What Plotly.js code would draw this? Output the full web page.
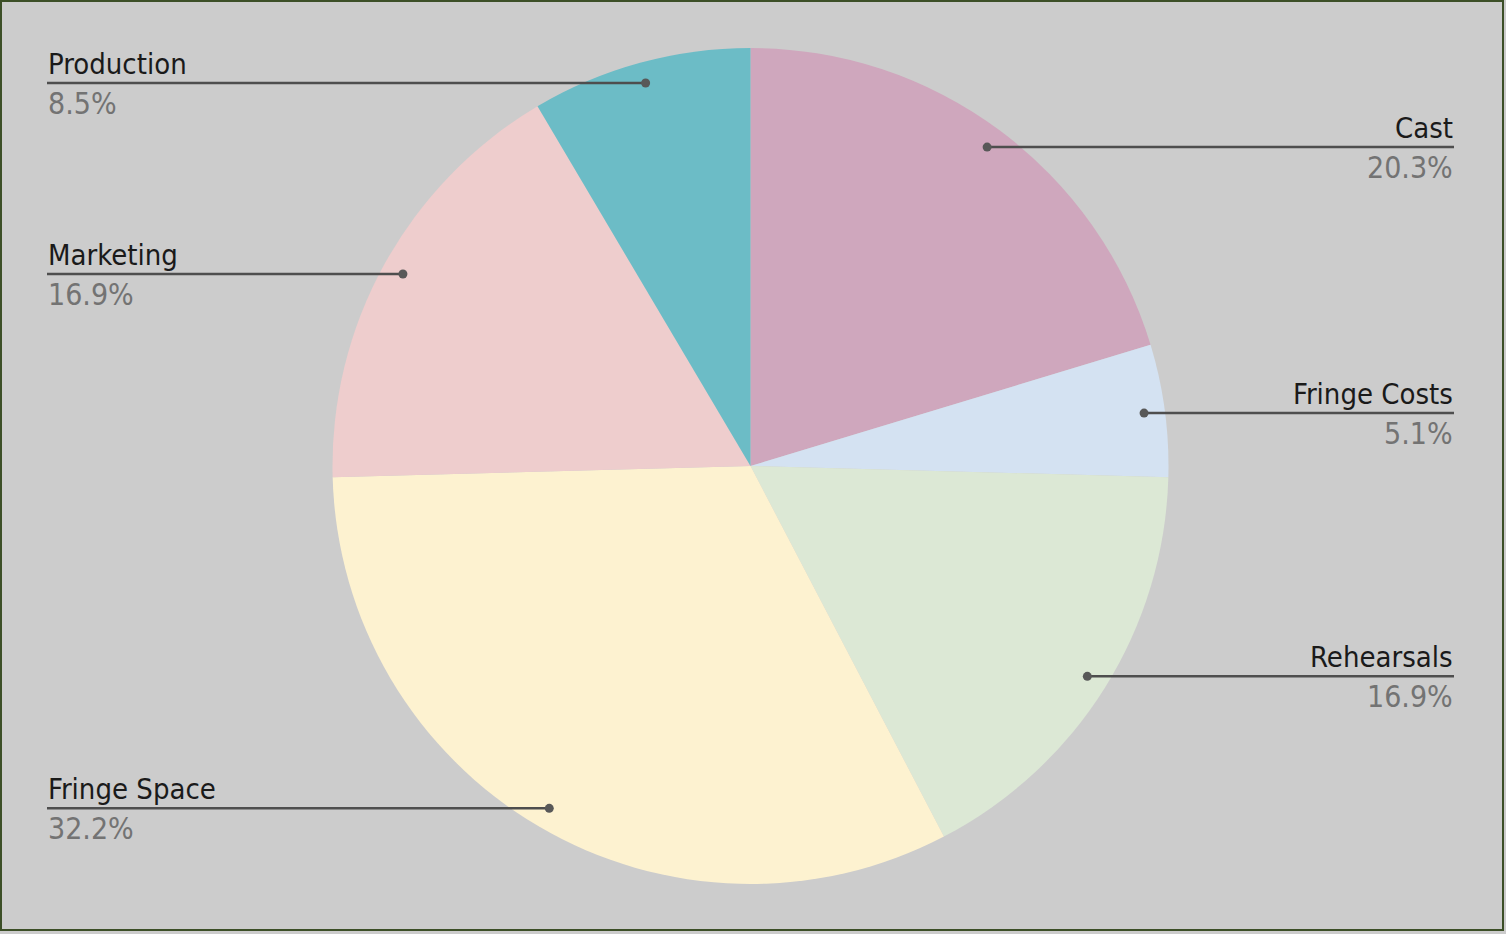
<!DOCTYPE html>
<html>
<head>
<meta charset="utf-8">
<script src="https://cdn.plot.ly/plotly-3.0.1.min.js"></script>
<style>
  html, body { margin: 0; padding: 0; background: #e4e4e4; }
  #chart { width: 1506px; height: 934px; }
</style>
</head>
<body>
<div id="chart"></div>
<script>
// ---- data ----
const categories = ["Cast", "Fringe Costs", "Rehearsals", "Fringe Space", "Marketing", "Production"];
const shares = [20.3, 5.1, 16.9, 32.2, 16.9, 8.5];
const sliceColors = ["#cfa7bd", "#d4e2f2", "#dce8d5", "#fdf2d0", "#eecdcd", "#6cbcc6"];

// ---- layout geometry (pixels) ----
const W = 1506, H = 934;
const cx = 750.5, cy = 466, R = 418;
const dotFrac = 0.95;
const rightEdge = 1454, leftEdge = 47;
const fontFam = "DejaVu Sans Condensed, DejaVu Sans, Liberation Sans, sans-serif";

const px = x => x / W;
const py = y => 1 - y / H;

const total = shares.reduce((a, b) => a + b, 0);
const shapes = [];
const annotations = [];
let cum = 0;
shares.forEach((v, i) => {
  const mid = (cum + v / 2) / total * 2 * Math.PI;
  cum += v;
  const dx = Math.sin(mid) * R * dotFrac;
  const dy = -Math.cos(mid) * R * dotFrac;
  const dxp = cx + dx, dyp = cy + dy;
  const right = dx >= 0;
  const edge = right ? rightEdge : leftEdge;
  shapes.push({
    type: "line", xref: "paper", yref: "paper",
    x0: px(dxp), y0: py(dyp), x1: px(edge), y1: py(dyp),
    line: { color: "#4e4e4e", width: 2.5 }
  });
  const r = 4.5;
  shapes.push({
    type: "circle", xref: "paper", yref: "paper",
    x0: px(dxp - r), x1: px(dxp + r), y0: py(dyp + r), y1: py(dyp - r),
    fillcolor: "#585858", line: { width: 0 }
  });
  annotations.push({
    xref: "paper", yref: "paper", x: px(edge), y: py(dyp - 1),
    xanchor: right ? "right" : "left", yanchor: "bottom",
    text: categories[i], showarrow: false, borderpad: 0,
    font: { family: fontFam, size: 29, color: "#1a1a1a" }
  });
  annotations.push({
    xref: "paper", yref: "paper", x: px(edge), y: py(dyp + 2),
    xanchor: right ? "right" : "left", yanchor: "top",
    text: v.toFixed(1) + "%", showarrow: false, borderpad: 0,
    font: { family: fontFam, size: 30, color: "#737373" }
  });
});

// border of chart area
shapes.push({
  type: "rect", xref: "paper", yref: "paper",
  x0: px(1), x1: px(1503), y0: py(930), y1: py(1),
  line: { color: "#3c4f27", width: 2 }, fillcolor: "rgba(0,0,0,0)"
});

const data = [{
  type: "pie",
  labels: categories,
  values: shares,
  sort: false,
  direction: "clockwise",
  rotation: 0,
  textinfo: "none",
  hoverinfo: "none",
  showlegend: false,
  marker: { colors: sliceColors, line: { width: 0 } },
  domain: {
    x: [px(cx - R), px(cx + R)],
    y: [py(cy + R), py(cy - R)]
  }
}];

const layout = {
  width: W, height: H,
  margin: { l: 0, r: 0, t: 0, b: 0 },
  paper_bgcolor: "#cccccc",
  plot_bgcolor: "#cccccc",
  showlegend: false,
  shapes: shapes,
  annotations: annotations,
  font: { family: fontFam }
};

Plotly.newPlot("chart", data, layout, { displayModeBar: false, staticPlot: true });
</script>
</body>
</html>
